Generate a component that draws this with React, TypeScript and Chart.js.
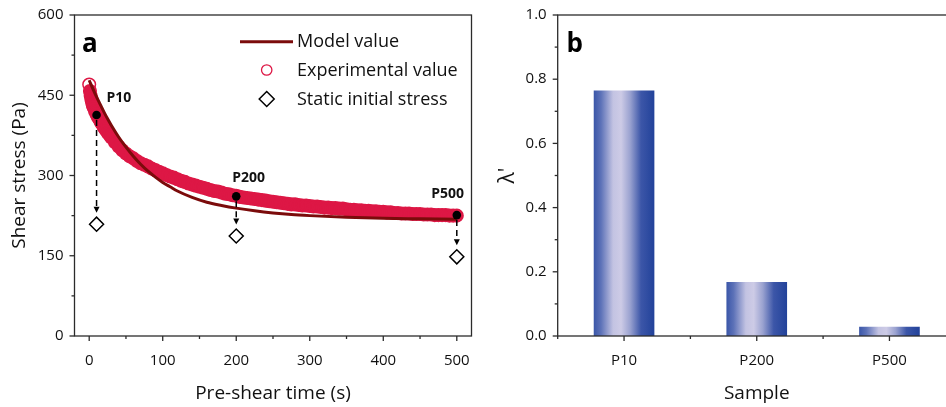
import React, { useEffect, useRef } from "react";
import { Chart, registerables } from "chart.js";

Chart.register(...registerables);

const FONT = "'Open Sans', 'DejaVu Sans', sans-serif";
const INK = "#111111";
const AXIS = "#2b2b2b";
const MODEL_COLOR = "#7b0b0b";
const EXP_COLOR = "#dd1745";

// ---- Panel a: shear stress vs pre-shear time ----
const expTime = [
  0, 1, 2, 3, 4, 5, 6, 8, 10, 12, 14, 16, 18, 20, 22, 25, 28, 30, 35, 40, 45, 50, 55, 60, 65, 70,
  75, 80, 85, 90, 95, 100, 105, 110, 115, 120, 125, 130, 135, 140, 145, 150, 155, 160, 165, 170,
  175, 180, 185, 190, 195, 200, 205, 210, 215, 220, 225, 230, 235, 240, 245, 250, 255, 260, 265,
  270, 275, 280, 285, 290, 295, 300, 305, 310, 315, 320, 325, 330, 335, 340, 345, 350, 355, 360,
  365, 370, 375, 380, 385, 390, 395, 400, 405, 410, 415, 420, 425, 430, 435, 440, 445, 450, 455,
  460, 465, 470, 475, 480, 485, 490, 495, 500,
];
const expStress = [
  470, 458, 449, 442, 436, 431, 427, 420, 414, 409, 404, 399, 395, 390, 386, 380, 375, 371, 362,
  354, 347, 341, 336, 332, 327, 323, 320, 317, 313, 310, 307, 304, 301, 298, 296, 293, 290, 288,
  285, 283, 281, 279, 277, 275, 273, 271, 270, 268, 266, 265, 263, 262, 260, 259, 258, 257, 256,
  255, 254, 253, 252, 251, 250, 249, 248, 247, 246, 246, 245, 244, 244, 243, 242, 242, 241, 240,
  240, 239, 239, 238, 238, 237, 236, 236, 235, 235, 234, 234, 233, 233, 232, 232, 231, 231, 230,
  230, 229, 229, 229, 228, 228, 228, 227, 227, 227, 226, 226, 226, 226, 225, 225, 225,
];
const modelTime = [
  0, 5, 10, 15, 20, 25, 30, 40, 50, 60, 70, 80, 90, 100, 110, 120, 140, 160, 180, 200, 225, 250,
  275, 300, 350, 400, 450, 500,
];
const modelStress = [
  478, 462, 447, 433, 419, 406, 394, 372, 353, 336, 321, 308, 297, 287, 279, 271, 259, 250, 244,
  239, 234, 230, 227, 225, 222, 220, 219, 218,
];
const sampleLabels = ["P10", "P200", "P500"];
const sampleTime = [10, 200, 500];
const sampleStress = [413, 261, 226];
const staticStress = [209, 187, 148];
const timeTicks = [0, 100, 200, 300, 400, 500];
const timeMinorTicks = [50, 150, 250, 350, 450];
const stressTicks = [0, 150, 300, 450, 600];
const stressMinorTicks = [75, 225, 375, 525];

// ---- Panel b: lambda' per sample ----
const lambdaValues = [0.765, 0.168, 0.029];
const lambdaTicks = [0, 0.2, 0.4, 0.6, 0.8, 1.0];
const lambdaMinorTicks = [0.1, 0.3, 0.5, 0.7, 0.9];

const BAR_PCT = 0.457;

type Spec = {
  xMajor: (c: any) => number[];
  xMinor: (c: any) => number[];
  yMajor: number[];
  yMinor: number[];
};

// Box frame plus outward major / minor tick marks
function makeFrame(spec: Spec) {
  return {
    id: "frameTicks",
    afterDatasetsDraw(chart: any) {
      const { ctx, chartArea: a } = chart;
      const ys = chart.scales.y;
      ctx.save();
      ctx.strokeStyle = AXIS;
      ctx.lineWidth = 1.3;
      ctx.setLineDash([]);
      ctx.strokeRect(a.left, a.top, a.right - a.left, a.bottom - a.top);
      const seg = (x1: number, y1: number, x2: number, y2: number) => {
        ctx.beginPath();
        ctx.moveTo(x1, y1);
        ctx.lineTo(x2, y2);
        ctx.stroke();
      };
      spec.xMajor(chart).forEach((px) => seg(px, a.bottom, px, a.bottom + 5));
      spec.xMinor(chart).forEach((px) => seg(px, a.bottom, px, a.bottom + 3));
      spec.yMajor.forEach((v) => {
        const py = ys.getPixelForValue(v);
        seg(a.left - 5, py, a.left, py);
      });
      spec.yMinor.forEach((v) => {
        const py = ys.getPixelForValue(v);
        seg(a.left - 3, py, a.left, py);
      });
      ctx.restore();
    },
  };
}

// Keep the plot box fixed: axis size set explicitly, label overhang ignored
const fixHeight = (h: number) => (s: any) => {
  s.height = h;
  s.paddingLeft = 0;
  s.paddingRight = 0;
};
const fixWidth = (w: number) => (s: any) => {
  s.width = w;
  s.paddingTop = 0;
  s.paddingBottom = 0;
};

// Legend, panel letter, sample labels and arrows for panel a
const annotateA = {
  id: "annotateA",
  afterDatasetsDraw(chart: any) {
    const { ctx } = chart;
    const xs = chart.scales.x;
    const ys = chart.scales.y;
    ctx.save();

    // arrows from each sample point down to its static initial stress
    sampleTime.forEach((t, i) => {
      const x = xs.getPixelForValue(t);
      const y0 = ys.getPixelForValue(sampleStress[i]) + 5;
      const tip = ys.getPixelForValue(staticStress[i]) - 11.5;
      ctx.strokeStyle = "#000";
      ctx.lineWidth = 1.5;
      ctx.setLineDash([6, 4]);
      ctx.beginPath();
      ctx.moveTo(x, y0);
      ctx.lineTo(x, tip - 5);
      ctx.stroke();
      ctx.setLineDash([]);
      ctx.fillStyle = "#000";
      ctx.beginPath();
      ctx.moveTo(x - 3, tip - 6);
      ctx.lineTo(x + 3, tip - 6);
      ctx.lineTo(x, tip);
      ctx.closePath();
      ctx.fill();
    });

    // sample names
    const offs = [
      [10, -13],
      [-4, -14],
      [-25.5, -17],
    ];
    ctx.font = `bold 14px ${FONT}`;
    ctx.fillStyle = INK;
    ctx.textAlign = "left";
    ctx.textBaseline = "alphabetic";
    sampleTime.forEach((t, i) => {
      const x = xs.getPixelForValue(t);
      const y = ys.getPixelForValue(sampleStress[i]);
      ctx.fillText(sampleLabels[i], x + offs[i][0], y + offs[i][1]);
    });

    // panel letter
    ctx.font = `bold 26px ${FONT}`;
    ctx.fillStyle = "#000";
    ctx.fillText("a", 82, 51.5);

    // legend
    ctx.strokeStyle = MODEL_COLOR;
    ctx.lineWidth = 3;
    ctx.beginPath();
    ctx.moveTo(240, 41.7);
    ctx.lineTo(293, 41.7);
    ctx.stroke();

    ctx.strokeStyle = EXP_COLOR;
    ctx.lineWidth = 1.3;
    ctx.beginPath();
    ctx.arc(266.7, 70, 5.2, 0, Math.PI * 2);
    ctx.stroke();

    ctx.strokeStyle = "#000";
    ctx.lineWidth = 1.5;
    ctx.beginPath();
    ctx.moveTo(266.7 - 7.5, 99);
    ctx.lineTo(266.7, 99 - 7.5);
    ctx.lineTo(266.7 + 7.5, 99);
    ctx.lineTo(266.7, 99 + 7.5);
    ctx.closePath();
    ctx.stroke();

    ctx.font = `18px ${FONT}`;
    ctx.fillStyle = INK;
    ctx.textBaseline = "middle";
    ctx.fillText("Model value", 297, 42);
    ctx.fillText("Experimental value", 297, 70.5);
    ctx.fillText("Static initial stress", 297, 99.5);
    ctx.restore();
  },
};

const letterB = {
  id: "letterB",
  afterDatasetsDraw(chart: any) {
    const { ctx } = chart;
    ctx.save();
    ctx.font = `bold 26px ${FONT}`;
    ctx.fillStyle = "#000";
    ctx.textAlign = "left";
    ctx.textBaseline = "alphabetic";
    ctx.fillText("b", 86.5, 51.5);
    ctx.restore();
  },
};

const tickFont = { family: FONT, size: 15 };
const titleFont = { family: FONT, size: 19 };

function barFill(c: any) {
  const chart = c.chart;
  const xs = chart.scales && chart.scales.x;
  if (!xs || !chart.chartArea) return "#2a479c";
  const cx = xs.getPixelForValue(c.dataIndex);
  const w = (xs.width / sampleLabels.length) * BAR_PCT;
  const g = chart.ctx.createLinearGradient(cx - w / 2, 0, cx + w / 2, 0);
  g.addColorStop(0, "#3a56a8");
  g.addColorStop(0.12, "#5d72b8");
  g.addColorStop(0.32, "#c3c3e2");
  g.addColorStop(0.45, "#cdcbe6");
  g.addColorStop(0.6, "#9aa2d0");
  g.addColorStop(0.78, "#3c56a8");
  g.addColorStop(1, "#22429a");
  return g;
}

export default function App() {
  const refA = useRef<HTMLCanvasElement | null>(null);
  const refB = useRef<HTMLCanvasElement | null>(null);

  useEffect(() => {
    const chartA = new Chart(refA.current as HTMLCanvasElement, {
      type: "scatter",
      data: {
        datasets: [
          {
            label: "Sample",
            data: sampleTime.map((t, i) => ({ x: t, y: sampleStress[i] })),
            pointRadius: 4.3,
            pointBackgroundColor: "#000",
            pointBorderColor: "#000",
            pointBorderWidth: 0,
            showLine: false,
            order: 0,
          },
          {
            label: "Model value",
            data: modelTime.map((t, i) => ({ x: t, y: modelStress[i] })),
            showLine: true,
            borderColor: MODEL_COLOR,
            borderWidth: 3,
            pointRadius: 0,
            cubicInterpolationMode: "monotone",
            fill: false,
            order: 1,
          },
          {
            label: "Static initial stress",
            data: sampleTime.map((t, i) => ({ x: t, y: staticStress[i] })),
            pointStyle: "rectRot",
            pointRadius: 7,
            pointBorderColor: "#000",
            pointBorderWidth: 1.5,
            pointBackgroundColor: "#fff",
            showLine: false,
            order: 2,
          },
          {
            label: "Experimental value",
            data: expTime.map((t, i) => ({ x: t, y: expStress[i] })),
            pointRadius: 6.3,
            pointBorderWidth: 1.5,
            pointBorderColor: EXP_COLOR,
            // the first open circle stays hollow; the dense run after it reads as a solid band
            pointBackgroundColor: (c: any) => (c.dataIndex === 0 ? "#ffffff" : EXP_COLOR),
            showLine: false,
            order: 3,
          },
        ],
      } as any,
      options: {
        animation: false,
        responsive: false,
        events: [],
        layout: { padding: { top: 15, right: 7, bottom: 0, left: 0 } },
        plugins: { legend: { display: false }, tooltip: { enabled: false } },
        scales: {
          x: {
            type: "linear",
            min: -20,
            max: 520,
            afterBuildTicks: (s: any) => {
              s.ticks = timeTicks.map((value) => ({ value }));
            },
            afterFit: fixHeight(71),
            grid: { display: false, drawTicks: false },
            border: { display: false },
            ticks: { font: tickFont, color: INK, padding: 15.5, maxRotation: 0, autoSkip: false },
            title: {
              display: true,
              text: "Pre-shear time (s)",
              font: titleFont,
              color: INK,
              padding: { top: 0, bottom: 2.5 },
            },
          },
          y: {
            min: 0,
            max: 600,
            afterBuildTicks: (s: any) => {
              s.ticks = stressTicks.map((value) => ({ value }));
            },
            afterFit: fixWidth(74.5),
            grid: { display: false, drawTicks: false },
            border: { display: false },
            ticks: { font: tickFont, color: INK, padding: 11 },
            title: {
              display: true,
              text: "Shear stress (Pa)",
              font: titleFont,
              color: INK,
              padding: { top: 8.6, bottom: 0 },
            },
          },
        },
      } as any,
      plugins: [
        makeFrame({
          xMajor: (c) => timeTicks.map((v) => c.scales.x.getPixelForValue(v)),
          xMinor: (c) => timeMinorTicks.map((v) => c.scales.x.getPixelForValue(v)),
          yMajor: stressTicks,
          yMinor: stressMinorTicks,
        }),
        annotateA,
      ],
    });

    const chartB = new Chart(refB.current as HTMLCanvasElement, {
      type: "bar",
      data: {
        labels: sampleLabels,
        datasets: [
          {
            label: "λ'",
            data: lambdaValues,
            backgroundColor: barFill,
            borderWidth: 0,
            barPercentage: BAR_PCT,
            categoryPercentage: 1,
          },
        ],
      } as any,
      options: {
        animation: false,
        responsive: false,
        events: [],
        layout: { padding: { top: 15, right: 4.2, bottom: 0, left: 0 } },
        plugins: { legend: { display: false }, tooltip: { enabled: false } },
        scales: {
          x: {
            afterFit: fixHeight(71),
            grid: { display: false, drawTicks: false },
            border: { display: false },
            ticks: { font: tickFont, color: INK, padding: 15.5, maxRotation: 0 },
            title: {
              display: true,
              text: "Sample",
              font: titleFont,
              color: INK,
              padding: { top: 0, bottom: 2.5 },
            },
          },
          y: {
            min: 0,
            max: 1,
            afterBuildTicks: (s: any) => {
              s.ticks = lambdaTicks.map((value) => ({ value }));
            },
            afterFit: fixWidth(77.7),
            grid: { display: false, drawTicks: false },
            border: { display: false },
            ticks: {
              font: tickFont,
              color: INK,
              padding: 11,
              callback: (v: any) => Number(v).toFixed(1),
            },
            title: {
              display: true,
              text: "λ'",
              font: { family: FONT, size: 21 },
              color: INK,
              padding: { top: 15, bottom: 0 },
            },
          },
        },
      } as any,
      plugins: [
        makeFrame({
          xMajor: (c) => sampleLabels.map((_, i) => c.scales.x.getPixelForValue(i)),
          xMinor: (c) =>
            [-0.5, 0.5, 1.5, 2.5].map((v) => c.scales.x.getPixelForValue(v)),
          yMajor: lambdaTicks,
          yMinor: lambdaMinorTicks,
        }),
        letterB,
      ],
    });

    return () => {
      chartA.destroy();
      chartB.destroy();
    };
  }, []);

  return (
    <div
      style={{
        position: "absolute",
        left: 0,
        top: 0,
        width: 946,
        height: 407,
        overflow: "hidden",
        background: "#fff",
      }}
    >
      <canvas ref={refA} width={480} height={407} style={{ position: "absolute", left: 0, top: 0 }} />
      <canvas ref={refB} width={480} height={407} style={{ position: "absolute", left: 480, top: 0 }} />
    </div>
  );
}
